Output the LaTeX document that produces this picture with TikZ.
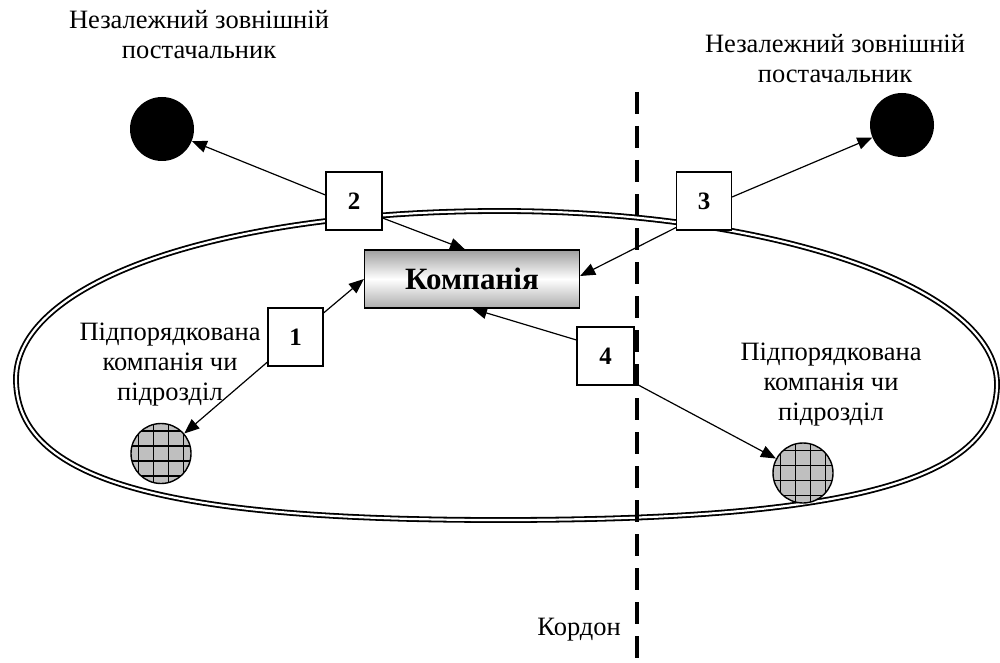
\documentclass[tikz,border=0pt]{standalone}
\usepackage{fontspec}
\setmainfont{Liberation Serif}
\usetikzlibrary{arrows.meta,calc}
\begin{document}
\begin{tikzpicture}[x=1pt,y=-1pt,
  lbl/.style={font=\fontsize{26.5}{30}\selectfont, align=center, inner sep=0pt},
  numbox/.style={draw, line width=1.1pt, fill=white, minimum width=56pt, minimum height=58pt, inner sep=0pt, font=\fontsize{25}{28}\selectfont\bfseries},
  blackdot/.style={circle, fill=black, minimum size=64pt, inner sep=0pt},
  hcirc/.style={circle, draw, line width=1.4pt, fill=gray!50, minimum size=60pt, inner sep=0pt,
    path picture={
      \foreach \d in {-22.5,-7.5,7.5,22.5}{
        \draw[line width=1.9pt] ([xshift=\d pt]path picture bounding box.north) -- ([xshift=\d pt]path picture bounding box.south);
        \draw[line width=1.9pt] ([yshift=\d pt]path picture bounding box.west) -- ([yshift=\d pt]path picture bounding box.east);
      }}},
  arr/.style={line width=1.2pt, -{Triangle[length=15pt,width=12pt]}},
]
\useasboundingbox (0,0) rectangle (1000,663);
% boundary (egg-like ellipse)
\coordinate (eL) at (16,379);
\coordinate (eT) at (500,211);
\coordinate (eR) at (997,384);
\coordinate (eB) at (500,520);
\draw[double, double distance=2.2pt, line width=1.8pt]
  (eL) .. controls (16,282) and (220,211) .. (eT)
       .. controls (774,211) and (997,288) .. (eR)
       .. controls (997,481) and (848,520) .. (eB)
       .. controls (162,520) and (16,480) .. cycle;
% cordon
\coordinate (ct) at (637,92);
\coordinate (cb) at (637,663);
\draw[line width=4pt, dash pattern=on 22pt off 12pt] (ct) -- (cb);
\node[lbl, anchor=base east] (kord) at (621,635) {Кордон};
% company
\node[draw, line width=1.2pt, minimum width=215pt, minimum height=58pt, inner sep=0pt,
  top color=gray!75, bottom color=gray!65, middle color=white,
  font=\fontsize{31}{34}\selectfont\bfseries] (comp) at (472,279) {Компанія};
% circles
\node[blackdot] (s1) at (162,129) {};
\node[blackdot] (s2) at (902,125) {};
\node[hcirc] (h1) at (161,453.5) {};
\node[hcirc] (h2) at (803,473) {};
% labels
\node[lbl, anchor=base] (t1) at (199,59) {Незалежний зовнішній\\постачальник};
\node[lbl, anchor=base] (t2) at (835,83) {Незалежний зовнішній\\постачальник};
\node[lbl, anchor=base] (t3) at (170,400) {Підпорядкована\\компанія чи\\підрозділ};
\node[lbl, anchor=base] (t4) at (831,420) {Підпорядкована\\компанія чи\\підрозділ};
% number boxes
\node[numbox, minimum width=55pt] (b1) at (295.5,337) {1};
\node[numbox] (b2) at (354,201) {2};
\node[numbox, minimum width=55pt] (b3) at (704,201) {3};
\node[numbox, minimum width=57pt] (b4) at (605.5,356) {4};
% arrows
\draw[arr] ([yshift=6pt]b2.west) -- (s1);
\draw[arr] ([yshift=-17pt]b2.east) -- ([xshift=-7pt]comp.north);
\draw[arr] ([yshift=4pt]b3.east) -- (s2);
\draw[arr] ([yshift=3pt]b3.south west) -- ([yshift=3pt]comp.east);
\draw[arr] ([yshift=24pt]b1.east) -- (comp.west);
\draw[arr] ([yshift=-25pt]b1.west) -- (h1);
\draw[arr] ([yshift=16pt]b4.west) -- (comp.south);
\draw[arr] ([yshift=-27pt]b4.east) -- (h2);
\end{tikzpicture}
\end{document}
